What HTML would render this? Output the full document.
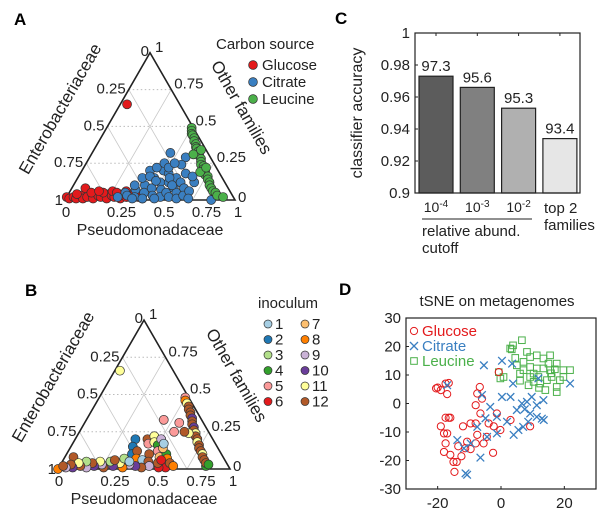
<!DOCTYPE html>
<html><head><meta charset="utf-8">
<style>
html,body{margin:0;padding:0;background:#fff;}
svg{display:block;font-family:"Liberation Sans",Arial,sans-serif;}
</style></head>
<body>
<svg id="fig" width="609" height="521" viewBox="0 0 609 521" xmlns="http://www.w3.org/2000/svg">
<text x="14" y="25" font-size="17" font-weight="bold">A</text>
<text x="25" y="296" font-size="17" font-weight="bold">B</text>
<text x="335" y="24" font-size="17" font-weight="bold">C</text>
<text x="339" y="295" font-size="17" font-weight="bold">D</text>
<g id="pa"></g>
<g id="pb"></g>
<g id="pc"></g>
<g id="pd"></g>
</svg>
<script>
// ---------- Panel A data: [Pseudomonadaceae, Other families]
const glucosePts = [[0,0.02],[0.02,0.01],[0.04,0.02],[0.06,0.01],[0.08,0.03],[0.1,0.01],[0.12,0.02],[0.14,0.04],[0.16,0.01],[0.18,0.03],[0.2,0.02],[0.22,0.04],[0.24,0.01],[0.26,0.03],[0.28,0.02],[0.3,0.04],[0.32,0.01],[0.35,0.02],[0.38,0.03],[0.42,0.02],[0.45,0.01],[0.08,0.08],[0.13,0.05],[0.2,0.05],[0.25,0.06],[0.28,0.05],[0.33,0.06],[0.04,0.65],[0.05,0.04],[0.17,0.06]];
const citratePts = [[0.46,0.32],[0.565,0.29],[0.565,0.24],[0.86,0],[0.33,0.05],[0.35,0.03],[0.38,0.07],[0.4,0.02],[0.42,0.1],[0.44,0.05],[0.45,0.15],[0.47,0.08],[0.48,0.2],[0.5,0.03],[0.5,0.12],[0.52,0.18],[0.53,0.07],[0.55,0.02],[0.55,0.12],[0.57,0.05],[0.58,0.15],[0.6,0.08],[0.6,0.02],[0.62,0.12],[0.63,0.05],[0.65,0.01],[0.66,0.08],[0.68,0.03],[0.38,0.15],[0.4,0.2],[0.43,0.22],[0.46,0.25],[0.5,0.22],[0.52,0.25],[0.36,0.1],[0.42,0.16],[0.47,0.13],[0.54,0.15],[0.58,0.1],[0.7,0.06],[0.7,0.12],[0.72,0.01],[0.3,0.02],[0.45,0.01],[0.62,0.18],[0.67,0.16],[0.39,0.01],[0.52,0.01]];
const leucinePts = [[0.5,0.49],[0.51,0.47],[0.52,0.45],[0.53,0.44],[0.55,0.42],[0.56,0.4],[0.58,0.38],[0.59,0.36],[0.6,0.35],[0.62,0.33],[0.63,0.31],[0.64,0.3],[0.66,0.28],[0.67,0.26],[0.68,0.24],[0.7,0.23],[0.71,0.21],[0.73,0.19],[0.74,0.17],[0.76,0.16],[0.77,0.14],[0.79,0.12],[0.8,0.1],[0.82,0.08],[0.84,0.06],[0.86,0.05],[0.88,0.03],[0.92,0.02],[0.6,0.31],[0.7,0.19],[0.72,0.22],[0.63,0.34]];
// ---------- Panel B data: [P, O, inoculum]
const inocPts = [[0.03,0.66,11],[0.45,0.33,5],[0.55,0.31,5],[0.55,0.25,5],[0.85,0.02,4],[0,0,8],[0.05,0.08,12],[0.35,0.2,2],[0.36,0.15,2],[0.38,0.1,2],[0.42,0.2,12],[0.45,0.22,11],[0.44,0.17,5],[0.47,0.18,11],[0.5,0.16,4],[0.52,0.12,5],[0.48,0.1,12],[0.4,0.12,12],[0.42,0.07,8],[0.46,0.06,1],[0.5,0.05,12],[0.55,0.08,7],[0.58,0.1,4],[0.6,0.03,8],[0.62,0.01,6],[0.58,0.01,6],[0.56,0.04,12],[0.52,0.02,9],[0.48,0.01,12],[0.44,0.02,10],[0.4,0.03,9],[0.37,0.01,8],[0.34,0.04,11],[0.31,0.02,10],[0.28,0.05,3],[0.26,0.01,12],[0.24,0.03,9],[0.22,0.05,11],[0.2,0.02,10],[0.18,0.04,12],[0.16,0.01,9],[0.14,0.05,3],[0.12,0.02,12],[0.1,0.04,11],[0.08,0.01,10],[0.06,0.03,12],[0.04,0.01,9],[0.02,0.02,12],[0.3,0.06,12],[0.35,0.07,3],[0.6,0.07,8],[0.63,0.04,12],[0.66,0.02,8],[0.54,0.14,7],[0.57,0.06,6],[0.39,0.05,1],[0.5,0.2,9],[0.53,0.17,1],[0.5,0.48,5],[0.51,0.46,8],[0.53,0.44,11],[0.55,0.42,12],[0.56,0.4,12],[0.58,0.38,12],[0.59,0.36,12],[0.61,0.34,10],[0.62,0.32,12],[0.63,0.3,12],[0.65,0.28,10],[0.66,0.26,12],[0.68,0.24,11],[0.69,0.22,12],[0.71,0.2,12],[0.72,0.18,11],[0.74,0.16,12],[0.75,0.14,12],[0.77,0.12,12],[0.79,0.1,11],[0.8,0.08,12],[0.82,0.06,12],[0.84,0.04,12],[0.86,0.03,4],[0.64,0.24,11],[0.61,0.25,12]];
const inocColors = ["#a6cee3","#1f78b4","#b2df8a","#33a02c","#fb9a99","#e31a1c","#fdbf6f","#ff7f00","#cab2d6","#6a3d9a","#ffff99","#b15928"];
const inocLabels = ["1","2","3","4","5","6","7","8","9","10","11","12"];
// ---------- Panel C data
const barCats = ["10-4","10-3","10-2","top 2"];
const barVals = [0.973,0.966,0.953,0.934];
const barLabels = ["97.3","95.6","95.3","93.4"];
const barColors = ["#5c5c5c","#808080","#b0b0b0","#e6e6e6"];
const cTicks = [0.9,0.92,0.94,0.96,0.98,1];
const cTickLabels = ["0.9","0.92","0.94","0.96","0.98","1"];
// ---------- Panel D data
const glucX = [-20,-17.5,-16.5,-17,-19,-17.5,-16,-19,-18,-17.5,-18,-16,-15,-14,-14.7,-13.5,-12,-10.7,-9.6,-8,-7.5,-8,-8,-7.5,-6.7,-6,-6.5,-5.5,-4.5,-2.5,-3.9,-2.3,-1.3,-0.2,-0.7,3,9.2,-9.6,-11.3,-12.5,-17,-20.5,-16.5];
const glucY = [5.6,7,7.2,3.3,4.7,-5,-5,-8,-10.5,-14,-17,-18,-20.5,-20.5,-24,-15,-8,-13.4,-16,-14,-11,-7,-0.6,3.5,5.8,1.7,-3.5,-14,-11.7,-17.3,-7,-8,-3.5,-9.3,11,-5.8,-8,-7,-15.7,-18.5,-10.5,5.3,-5];
const citX = [-17,-5.4,0.3,3.5,3.8,-6,-3.4,-1.3,0.3,3,5,6.6,8.2,9.7,11.3,13.4,9.2,11.3,12.9,4,5.5,7,8.6,-13.8,-11.7,-9.6,-7.5,-11.2,-10.7,-6.5,-4.4,-1.3,21.8,11.8,1.9,-4.9,13.5,7.5];
const citY = [6.4,13.4,15,14,7,3,-1.2,-4.7,2.3,2.3,-2.3,0,0.6,2.3,-0.6,1.2,-3.5,-4.7,-5.3,-11,-9.3,-8.2,-6.4,-12.8,-15.7,-14,-8.2,-24.5,-25,-19,-11.7,-10.5,7,8.8,-6.4,-5.2,-5.8,-2];
const leuX = [2.9,3.8,6.6,8.2,9.2,11.3,13.4,15.5,17.6,19.7,21.8,-0.7,-0.2,0.8,6,7.1,9.2,10.3,12.4,14.5,16,17.6,17.6,18.6,11.3,13.4,15.5,9.2,7.1,5,3.4,15,17,10.3,11.8,8.7,19.7,14,6,12,15.8,4.5];
const leuY = [19.3,20.4,22.2,18.1,16.3,16.9,15.8,16.9,14,11.7,11.7,11,8.8,9.3,10.5,11.7,9.3,7.6,7,8.2,9.3,5.8,4,8.2,12.3,12.3,11.7,12.8,14.6,13.4,19,14,12,10.5,9.3,6.4,9.3,4.7,8,5.5,10.6,16];

const NS="http://www.w3.org/2000/svg";
function mk(parent,tag,attrs,text){const e=document.createElementNS(NS,tag);for(const k in attrs)e.setAttribute(k,attrs[k]);if(text!==undefined)e.textContent=text;parent.appendChild(e);return e;}

function ternary(g,ox,base,W,pts,colorOf,prefix){
  const H=W*0.866;
  const X=(p,o)=>ox+W*(p+o/2), Y=(p,o)=>base-H*o;
  [0.25,0.5,0.75].forEach(v=>{
    let l=mk(g,'line',{x1:X(0,v),y1:Y(0,v),x2:X(1-v,v),y2:Y(1-v,v),stroke:'#bbb','stroke-dasharray':'1.5,2.5','stroke-width':1});
    
    l=mk(g,'line',{x1:X(v,0),y1:Y(v,0),x2:X(v,1-v),y2:Y(v,1-v),stroke:'#c8c8c8','stroke-width':0.8});
    
    l=mk(g,'line',{x1:X(v,0),y1:Y(v,0),x2:X(0,v),y2:Y(0,v),stroke:'#c8c8c8','stroke-width':0.8});
    
  });
  const tri=mk(g,'polygon',{points:`${X(0,0)},${Y(0,0)} ${X(1,0)},${Y(1,0)} ${X(0,1)},${Y(0,1)}`,fill:'none',stroke:'#222','stroke-width':1.6});
  
  pts.forEach(p=>{
    const c=mk(g,'circle',{cx:X(p[0],p[1]),cy:Y(p[0],p[1]),r:4.5,fill:colorOf(p),stroke:'#333','stroke-width':0.7});
    
  });
  const fs=15;
  const T=(x,y,s,anchor,name)=>{const t=mk(g,'text',{x:x,y:y,'font-size':fs,'text-anchor':anchor||'start',fill:'#222'},s);return t;};
  const ax=X(0,1), ay=Y(0,1);
  T(ax-1,ay+3,'0','end','apex-tick-0');T(ax+5,ay-1,'1','start','apex-tick-1');
  [[0.75,'0.25'],[0.5,'0.5'],[0.25,'0.75']].forEach(([o,s])=>T(X(0,o)-3,Y(0,o)+4,s,'end','left-tick-label'));
  T(X(0,0)-2,Y(0,0)+5,'1','end','left-tick-label');
  [[0.75,'0.75'],[0.5,'0.5'],[0.25,'0.25']].forEach(([o,s])=>T(X(1-o,o)+3,Y(1-o,o)-1,s,'start','right-tick-label'));
  T(X(1,0)+3,Y(1,0)+2,'0','start','right-tick-label');
  [[0,'0'],[0.25,'0.25'],[0.5,'0.5'],[0.75,'0.75'],[1,'1']].forEach(([p,s])=>T(X(p,0)+(p>0&&p<1?14:(p==1?3:1)),base+17,s,'middle','bottom-tick-label'));
  let tt=T(ox+W/2,base+35,'Pseudomonadaceae','middle','bottom-axis-title');tt.setAttribute('font-size',16);
  const lx=ox+W*0.0, ly=base-H*0.6;
  let t=T(0,0,'Enterobacteriaceae','middle','left-axis-title');t.setAttribute('transform',`translate(${lx},${ly}) rotate(-60)`);t.setAttribute('font-size',17);
  t=T(0,0,'Other families','middle','right-axis-title');t.setAttribute('transform',`translate(${ox+W*1.01},${base-H*0.61}) rotate(60)`);t.setAttribute('font-size',17);
}

const pa=document.getElementById('pa');
const aCol={g:'#e31a1c',c:'#3a7fc1',l:'#4bb04a'};
ternary(pa,65,200,170,[...glucosePts.map(p=>[p[0],p[1],'g']),...citratePts.map(p=>[p[0],p[1],'c']),...leucinePts.map(p=>[p[0],p[1],'l'])],p=>aCol[p[2]],'panel-a');
(function(){
  let t=mk(pa,'text',{x:216,y:49,'font-size':15,fill:'#222'},'Carbon source');
  [['Glucose','g'],['Citrate','c'],['Leucine','l']].forEach(([s,k],i)=>{
    const y=65+i*17;
    const c=mk(pa,'circle',{cx:253,cy:y,r:4.4,fill:aCol[k],stroke:'#333','stroke-width':0.7});
    const tt=mk(pa,'text',{x:262,y:y+5,'font-size':15,fill:'#222'},s);
  });
})();

const pb=document.getElementById('pb');
ternary(pb,58,469,172,inocPts,p=>inocColors[p[2]-1],'panel-b');
(function(){
  let t=mk(pb,'text',{x:258,y:308,'font-size':15,fill:'#222'},'inoculum');
  inocLabels.forEach((s,i)=>{
    const col=Math.floor(i/6),row=i%6;
    const x=268+col*37,y=324+row*15.5;
    const c=mk(pb,'circle',{cx:x,cy:y,r:4,fill:inocColors[i],stroke:'#333','stroke-width':0.7});
    const tt=mk(pb,'text',{x:x+7,y:y+5,'font-size':15,fill:'#222'},s);
  });
})();

(function(){
  const g=document.getElementById('pc');
  const L=415,R=580,T=33,B=193;
  const y=v=>B-(v-0.9)/0.1*(B-T);
  const bx=i=>436+i*41.3;
  barVals.forEach((v,i)=>{
    const r=mk(g,'rect',{x:bx(i)-17,y:y(v),width:34,height:B-y(v),fill:barColors[i],stroke:'#222','stroke-width':1.2});
    
    const t=mk(g,'text',{x:bx(i),y:y(v)-5,'font-size':15,'text-anchor':'middle',fill:'#222'},barLabels[i]);
    
  });
  const f=mk(g,'rect',{x:L,y:T,width:R-L,height:B-T,fill:'none',stroke:'#222','stroke-width':1.2});
  
  cTicks.forEach((v,i)=>{
    const l=mk(g,'line',{x1:L,x2:L+3,y1:y(v),y2:y(v),stroke:'#222'});
    const t=mk(g,'text',{x:L-5,y:y(v)+5,'font-size':15,'text-anchor':'end',fill:'#222'},cTickLabels[i]);
    
  });
  barCats.forEach((c,i)=>{
    const l=mk(g,'line',{x1:bx(i),x2:bx(i),y1:T,y2:T+3,stroke:'#222'});
    if(i<3){
      const t=mk(g,'text',{x:bx(i),y:212,'font-size':14,'text-anchor':'middle',fill:'#222'});
      
      mk(t,'tspan',{},'10');mk(t,'tspan',{dy:-5,'font-size':10},'-'+c.split('-')[1]);
    }
  });
  let t=mk(g,'text',{x:544,y:213,'font-size':15,fill:'#222'},'top 2');
  t=mk(g,'text',{x:544,y:230,'font-size':15,fill:'#222'},'families');
  const ln=mk(g,'line',{x1:422,x2:532,y1:219,y2:219,stroke:'#222','stroke-width':1});
  t=mk(g,'text',{x:422,y:236,'font-size':15,fill:'#222'},'relative abund.');
  t=mk(g,'text',{x:422,y:253,'font-size':15,fill:'#222'},'cutoff');
  t=mk(g,'text',{x:0,y:0,'font-size':16,'text-anchor':'middle',fill:'#222',transform:'translate(362,113) rotate(-90)'},'classifier accuracy');
  
})();

(function(){
  const g=document.getElementById('pd');
  const L=406,R=596,T=318,B=489;
  const x=v=>L+(v+30)/60*(R-L), y=v=>B-(v+30)/60*(B-T);
  let t=mk(g,'text',{x:497,y:306,'font-size':15,'text-anchor':'middle',fill:'#222'},'tSNE on metagenomes');
  leuX.forEach((v,i)=>{const r=mk(g,'rect',{x:x(v)-3.3,y:y(leuY[i])-3.3,width:6.6,height:6.6,fill:'none',stroke:'#4bb04a','stroke-width':1});});
  glucX.forEach((v,i)=>{const c=mk(g,'circle',{cx:x(v),cy:y(glucY[i]),r:3.6,fill:'none',stroke:'#e31a1c','stroke-width':1});});
  citX.forEach((v,i)=>{const cx=x(v),cy=y(citY[i]),d=3.8;const p=mk(g,'path',{d:`M${cx-d},${cy-d}L${cx+d},${cy+d}M${cx-d},${cy+d}L${cx+d},${cy-d}`,stroke:'#3a7fc1','stroke-width':1.3});});
  const f=mk(g,'rect',{x:L,y:T,width:R-L,height:B-T,fill:'none',stroke:'#222','stroke-width':1.2});
  [-30,-20,-10,0,10,20,30].forEach(v=>{
    const l=mk(g,'line',{x1:L,x2:L+3,y1:y(v),y2:y(v),stroke:'#222'});
    const tt=mk(g,'text',{x:L-5,y:y(v)+5,'font-size':15,'text-anchor':'end',fill:'#222'},String(v));
  });
  [-20,0,20].forEach(v=>{
    const l=mk(g,'line',{x1:x(v),x2:x(v),y1:B,y2:B-3,stroke:'#222'});
    const tt=mk(g,'text',{x:x(v),y:B+19,'font-size':15,'text-anchor':'middle',fill:'#222'},String(v));
  });
  [['Glucose','#e31a1c'],['Citrate','#3a7fc1'],['Leucine','#4bb04a']].forEach(([s,c],i)=>{
    const yy=331+i*15,xx=414;
    let m;
    if(i==0)m=mk(g,'circle',{cx:xx,cy:yy,r:3.6,fill:'none',stroke:c});
    else if(i==1)m=mk(g,'path',{d:`M${xx-4},${yy-4}L${xx+4},${yy+4}M${xx-4},${yy+4}L${xx+4},${yy-4}`,stroke:c,'stroke-width':1.3});
    else m=mk(g,'rect',{x:xx-3.3,y:yy-3.3,width:6.6,height:6.6,fill:'none',stroke:c});
    
    const tt=mk(g,'text',{x:422,y:yy+5,'font-size':15,fill:c},s);
  });
})();
</script>
</body></html>
